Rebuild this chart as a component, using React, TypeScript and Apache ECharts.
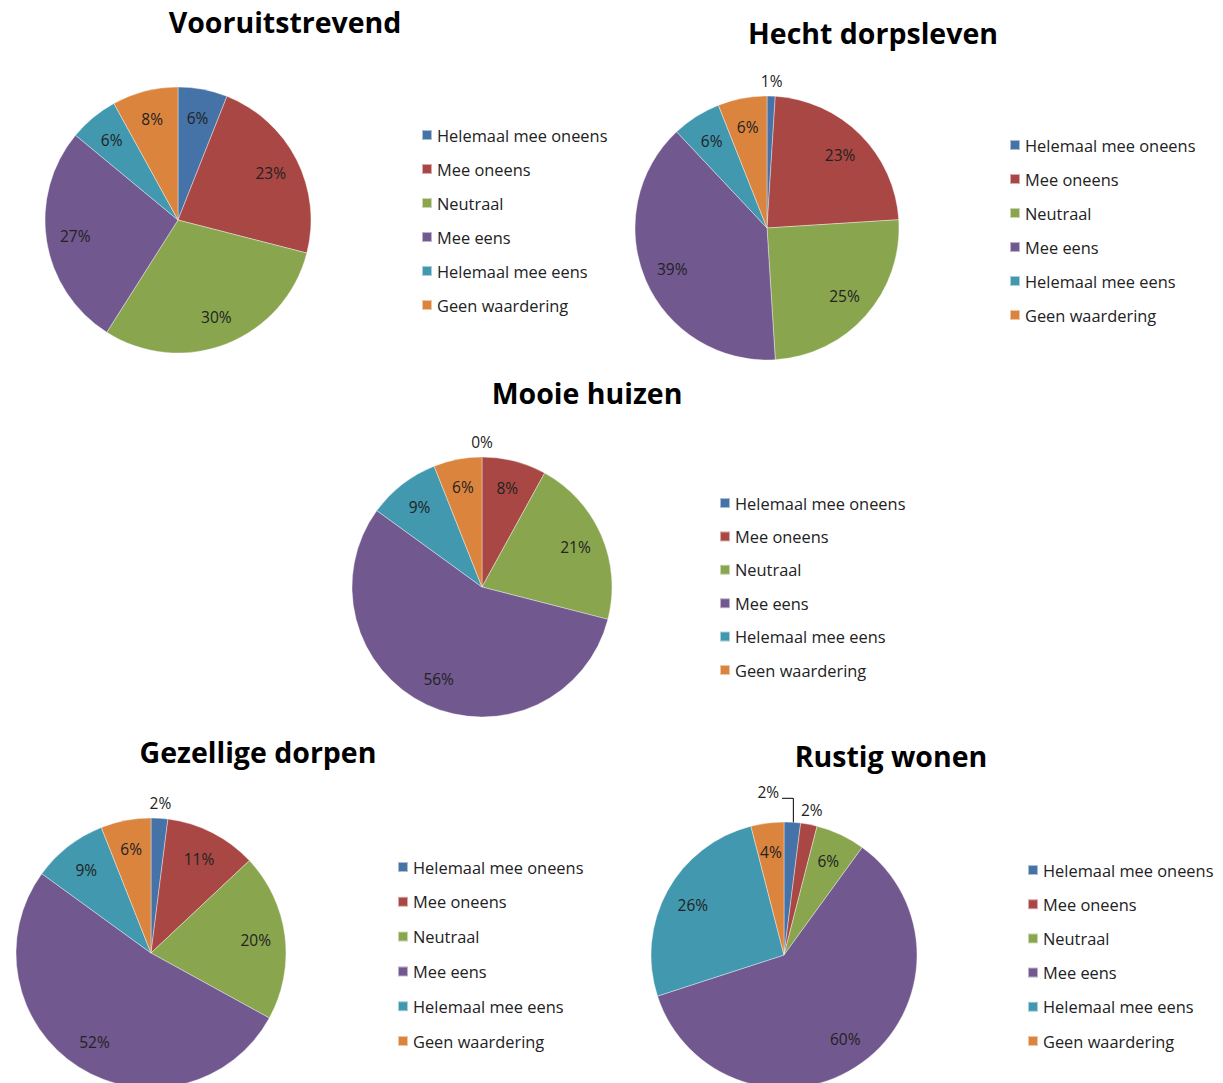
import React, { useEffect, useRef } from 'react';
import * as echarts from 'echarts';

// ---- Data ----
const categories = [
  'Helemaal mee oneens',
  'Mee oneens',
  'Neutraal',
  'Mee eens',
  'Helemaal mee eens',
  'Geen waardering',
];
const titles = ['Vooruitstrevend', 'Hecht dorpsleven', 'Mooie huizen', 'Gezellige dorpen', 'Rustig wonen'];
const vooruitstrevend = [6, 23, 30, 27, 6, 8];
const hechtDorpsleven = [1, 23, 25, 39, 6, 6];
const mooieHuizen = [0, 8, 21, 56, 9, 6];
const gezelligeDorpen = [2, 11, 20, 52, 9, 6];
const rustigWonen = [2, 2, 6, 60, 26, 4];
const allValues = [vooruitstrevend, hechtDorpsleven, mooieHuizen, gezelligeDorpen, rustigWonen];

// ---- Styling / layout ----
const colors = ['#4572A7', '#A94744', '#89A54E', '#71588F', '#4198AF', '#DB843D'];
const FONT = '"Open Sans", Lato, sans-serif';

const layouts = [
  { cx: 178, cy: 220, r: 133, titleX: 285, titleY: 22, legendX: 421, legendY: 127, legendGap: 18 },
  { cx: 767, cy: 228, r: 132, titleX: 873, titleY: 33, legendX: 1009, legendY: 137, legendGap: 18 },
  { cx: 482, cy: 587, r: 130, titleX: 587, titleY: 393, legendX: 719, legendY: 495, legendGap: 17.4 },
  { cx: 151, cy: 953, r: 135, titleX: 258, titleY: 752, legendX: 397, legendY: 859, legendGap: 18.8 },
  { cx: 784, cy: 955, r: 133, titleX: 891, titleY: 756, legendX: 1027, legendY: 862, legendGap: 18.2, moveFirst: { dx: -25, dy: -15 } },
];

function buildOption() {
  const series: any[] = [];
  const title: any[] = [];
  const legend: any[] = [];
  const graphic: any[] = [];

  layouts.forEach((L, i) => {
    const values = allValues[i];
    const total = values.reduce((a, b) => a + b, 0);
    title.push({
      text: titles[i],
      left: L.titleX,
      top: L.titleY,
      textAlign: 'center',
      textVerticalAlign: 'middle',
      padding: 0,
      textStyle: { fontFamily: FONT, fontSize: 28.5, fontWeight: 'bold', color: '#000' },
    });
    legend.push({
      orient: 'vertical',
      left: L.legendX,
      top: L.legendY,
      padding: 0,
      itemWidth: 10,
      itemHeight: 10,
      itemGap: L.legendGap,
      icon: 'rect',
      data: categories,
      selectedMode: false,
      textStyle: { fontFamily: FONT, fontSize: 16.4, lineHeight: 16, color: '#222' },
    });
    // main pie
    series.push({
      type: 'pie',
      center: [L.cx, L.cy],
      radius: L.r,
      startAngle: 90,
      clockwise: true,
      avoidLabelOverlap: false,
      data: categories.map((name, k) => ({ name, value: values[k], itemStyle: { color: colors[k] } })),
      label: { show: false },
      labelLine: { show: false },
      itemStyle: { borderColor: 'rgba(255,255,255,0.55)', borderWidth: 0.7 },
      emphasis: { disabled: true },
    });
    // inner percent labels
    series.push({
      type: 'pie',
      silent: true,
      legendHoverLink: false,
      center: [L.cx, L.cy],
      radius: [L.r * 0.52, L.r],
      startAngle: 90,
      clockwise: true,
      avoidLabelOverlap: false,
      data: categories.map((name, k) => ({ name, value: values[k], label: { show: values[k] > 2 } })),
      itemStyle: { color: 'rgba(0,0,0,0)', borderWidth: 0 },
      label: { position: 'inside', formatter: '{c}%', fontFamily: FONT, fontSize: 15.5, color: '#222' },
      labelLine: { show: false },
      emphasis: { disabled: true },
    });
    // outer percent labels for tiny slices
    series.push({
      type: 'pie',
      silent: true,
      legendHoverLink: false,
      center: [L.cx, L.cy],
      radius: [L.r, L.r + 24],
      startAngle: 90,
      clockwise: true,
      avoidLabelOverlap: false,
      data: categories.map((name, k) => ({ name, value: values[k], label: { show: values[k] <= 2 } })),
      itemStyle: { color: 'rgba(0,0,0,0)', borderWidth: 0 },
      label: { position: 'inside', formatter: '{c}%', fontFamily: FONT, fontSize: 15.5, color: '#222' },
      labelLine: { show: false },
      emphasis: { disabled: true },
      labelLayout: L.moveFirst
        ? (p: any) => (p.dataIndex === 0 ? { dx: L.moveFirst!.dx, dy: L.moveFirst!.dy } : undefined)
        : undefined,
    });
    if (L.moveFirst) {
      const a = (values[0] / total) * Math.PI; // mid angle of first slice
      const lx = L.cx + (L.r + 12) * Math.sin(a) + L.moveFirst.dx;
      const ly = L.cy - (L.r + 12) * Math.cos(a) + L.moveFirst.dy;
      const px = L.cx + L.r * Math.sin(a);
      const py = L.cy - L.r * Math.cos(a);
      graphic.push({
        type: 'polyline',
        silent: true,
        shape: { points: [[lx + 14, ly + 3], [px + 1, ly + 3], [px + 1, py + 1]] },
        style: { stroke: '#000', lineWidth: 1, fill: 'none' },
      });
    }
  });

  return { animation: false, backgroundColor: '#fff', title, legend, series, graphic };
}

export default function App() {
  const ref = useRef<HTMLDivElement>(null);
  useEffect(() => {
    document.body.style.margin = '0';
    const chart = echarts.init(ref.current!, null, { renderer: 'svg' });
    chart.setOption(buildOption() as any);
    return () => chart.dispose();
  }, []);
  return <div ref={ref} style={{ width: 1223, height: 1083 }} />;
}
